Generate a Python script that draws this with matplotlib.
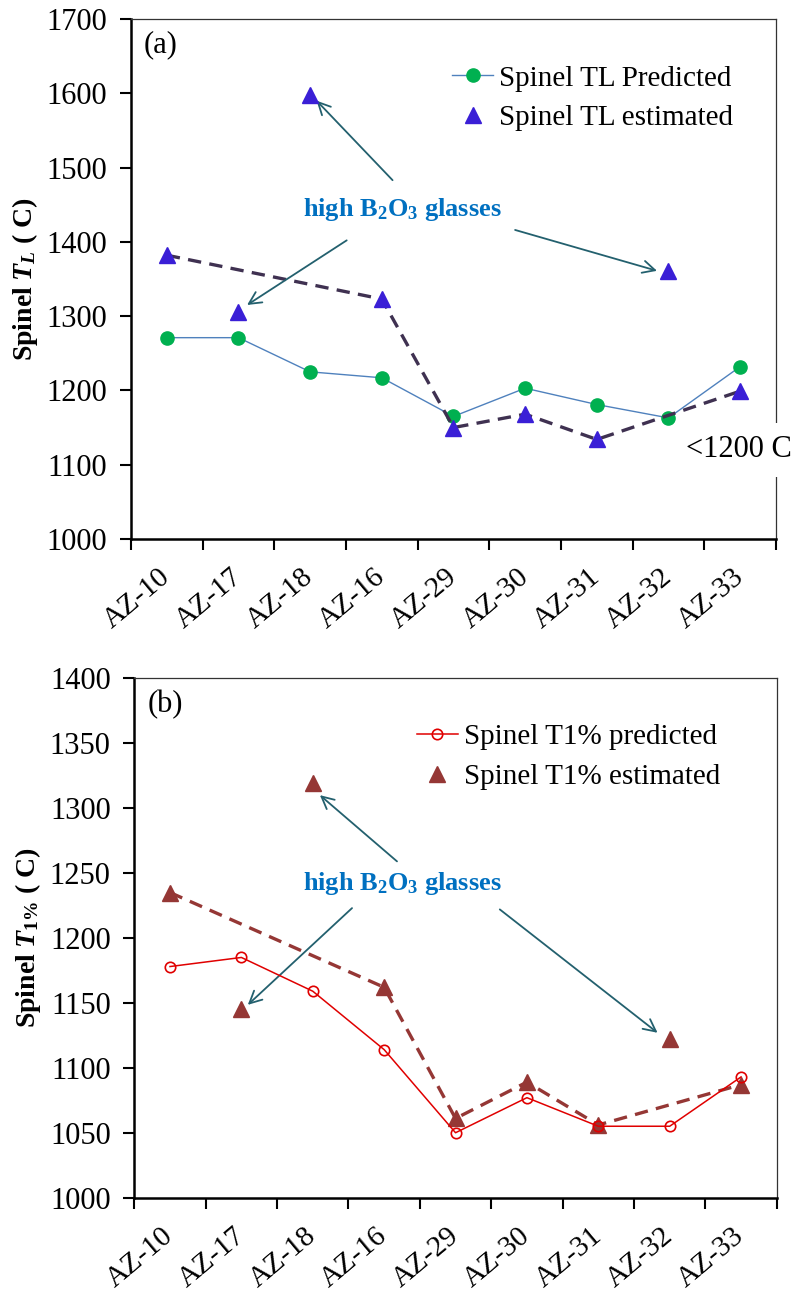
import numpy as np
import matplotlib.pyplot as plt

plt.rcParams['font.family'] = 'Liberation Serif'
plt.rcParams['mathtext.fontset'] = 'custom'
plt.rcParams['mathtext.rm'] = 'Liberation Serif:bold'
plt.rcParams['mathtext.it'] = 'Liberation Serif:bold:italic'
plt.rcParams['mathtext.bf'] = 'Liberation Serif:bold'

glasses = ["AZ-10", "AZ-17", "AZ-18", "AZ-16", "AZ-29", "AZ-30", "AZ-31", "AZ-32", "AZ-33"]
high_b2o3 = ["AZ-17", "AZ-18", "AZ-32"]

# liquidus temperature, C
tl_pred = [1271, 1271, 1225, 1217, 1165, 1203, 1181, 1163, 1232]
tl_est = [1382, 1306, 1597, 1323, 1150, 1168, 1134, 1361, 1199]

# temperature at 1 vol% spinel, C
t1_pred = [1178, 1185, 1159, 1114, 1050, 1077, 1055, 1055, 1093]
t1_est = [1235, 1145, 1319, 1162, 1061, 1089, 1056, 1122, 1087]

x = np.arange(len(glasses))
keep = np.array([g not in high_b2o3 for g in glasses])
tgt = [glasses.index(g) for g in ["AZ-18", "AZ-17", "AZ-32"]]

fig = plt.figure(figsize=(7.91, 12.91), dpi=100)
ax1 = fig.add_axes([0.1656, 0.5825, 0.8154, 0.4028])
ax2 = fig.add_axes([0.1698, 0.0723, 0.8122, 0.4023])

arrow_col = '#23606E'
note_col = '#0070C0'


def style_axes(ax, ylim, yticks):
    ax.set_xlim(-0.5, len(glasses) - 0.5)
    ax.set_ylim(*ylim)
    ax.set_yticks(yticks)
    ax.set_xticks(np.arange(len(glasses) + 1) - 0.5)
    ax.set_xticklabels([])
    ax.set_xticks(x, minor=True)
    ax.set_xticklabels(glasses, minor=True, rotation=40, ha='right', va='center',
                       rotation_mode='anchor', fontsize=21)
    ax.tick_params(axis='x', which='minor', length=0, pad=25)
    ax.tick_params(axis='both', which='major', direction='out', length=8, width=1.5)
    ax.tick_params(axis='y', labelsize=22, pad=9)
    for s in ['left', 'bottom']:
        ax.spines[s].set_linewidth(1.8)
    for s in ['top', 'right']:
        ax.spines[s].set_linewidth(0.9)
        ax.spines[s].set_color('#333333')


leg_kw = dict(loc='upper left', frameon=False, fontsize=21, handlelength=1.4,
              handletextpad=0.2, labelspacing=0.45, borderaxespad=0, borderpad=0)

# (a) liquidus temperature
ax1.plot(x, tl_pred, '-', color='#4F81BD', lw=1.0, marker='o', ms=9.5,
         mfc='#00B050', mec='#00B050', label='Spinel TL Predicted', zorder=2)
ax1.plot(x[keep], np.array(tl_est)[keep], '--', color='#3F3151', lw=2.4,
         dashes=(4, 2.5), zorder=3)
ax1.plot(x, tl_est, '^', color='#3A1FD6', ms=11, ls='none',
         label='Spinel TL estimated', zorder=4)
style_axes(ax1, (1000, 1700), np.arange(1000, 1701, 100))
ax1.set_ylabel(r'Spinel $T_L$ ( C)', fontsize=20, fontweight='bold', labelpad=5)
ax1.text(0.02, 0.95, '(a)', transform=ax1.transAxes, fontsize=22, va='center')
ax1.legend(bbox_to_anchor=(0.498, 0.911), **leg_kw)
ax1.text(3.29, 1443, r'high $\mathbf{B_2O_3}$ glasses', color=note_col, fontsize=19,
         fontweight='bold', ha='center', va='center')
for (tx, ty), i, dx, dy in zip([(3.15, 1483), (2.51, 1402), (4.86, 1416)], tgt,
                               [0.09, 0.12, -0.16], [-7, 9, 0]):
    ax1.annotate('', xy=(x[i] + dx, tl_est[i] + dy), xytext=(tx, ty),
                 arrowprops=dict(arrowstyle='->', color=arrow_col, lw=1.3,
                                 mutation_scale=22, shrinkA=0, shrinkB=0))
ax1.text(7.25, 1120, '<1200 C', fontsize=22, va='center', ha='left', clip_on=False,
         bbox=dict(boxstyle='square,pad=0.4', fc='white', ec='none'), zorder=6)

# (b) temperature at 1% spinel
ax2.plot(x, t1_pred, '-', color='#E00000', lw=1.1, marker='o', ms=7.5,
         mfc='none', mec='#E00000', mew=1.2, label='Spinel T1% predicted', zorder=4)
ax2.plot(x[keep], np.array(t1_est)[keep], '--', color='#953735', lw=2.4,
         dashes=(4, 2.5), zorder=2)
ax2.plot(x, t1_est, '^', color='#953735', ms=11.5, ls='none',
         label='Spinel T1% estimated', zorder=3)
style_axes(ax2, (1000, 1400), np.arange(1000, 1401, 50))
ax2.set_ylabel(r'Spinel $T_{\mathit{1\%}}$ ( C)', fontsize=20, fontweight='bold', labelpad=5)
ax2.text(0.02, 0.95, '(b)', transform=ax2.transAxes, fontsize=22, va='center')
ax2.legend(bbox_to_anchor=(0.44, 0.912), **leg_kw)
ax2.text(3.26, 1242, r'high $\mathbf{B_2O_3}$ glasses', color=note_col, fontsize=19,
         fontweight='bold', ha='center', va='center')
for (tx, ty), i, dx, dy in zip([(3.18, 1259), (2.55, 1223), (4.62, 1222)], tgt,
                               [0.1, 0.09, -0.17], [-9, 3.5, 5]):
    ax2.annotate('', xy=(x[i] + dx, t1_est[i] + dy), xytext=(tx, ty),
                 arrowprops=dict(arrowstyle='->', color=arrow_col, lw=1.3,
                                 mutation_scale=22, shrinkA=0, shrinkB=0))

fig.savefig('out.png', dpi=100)
